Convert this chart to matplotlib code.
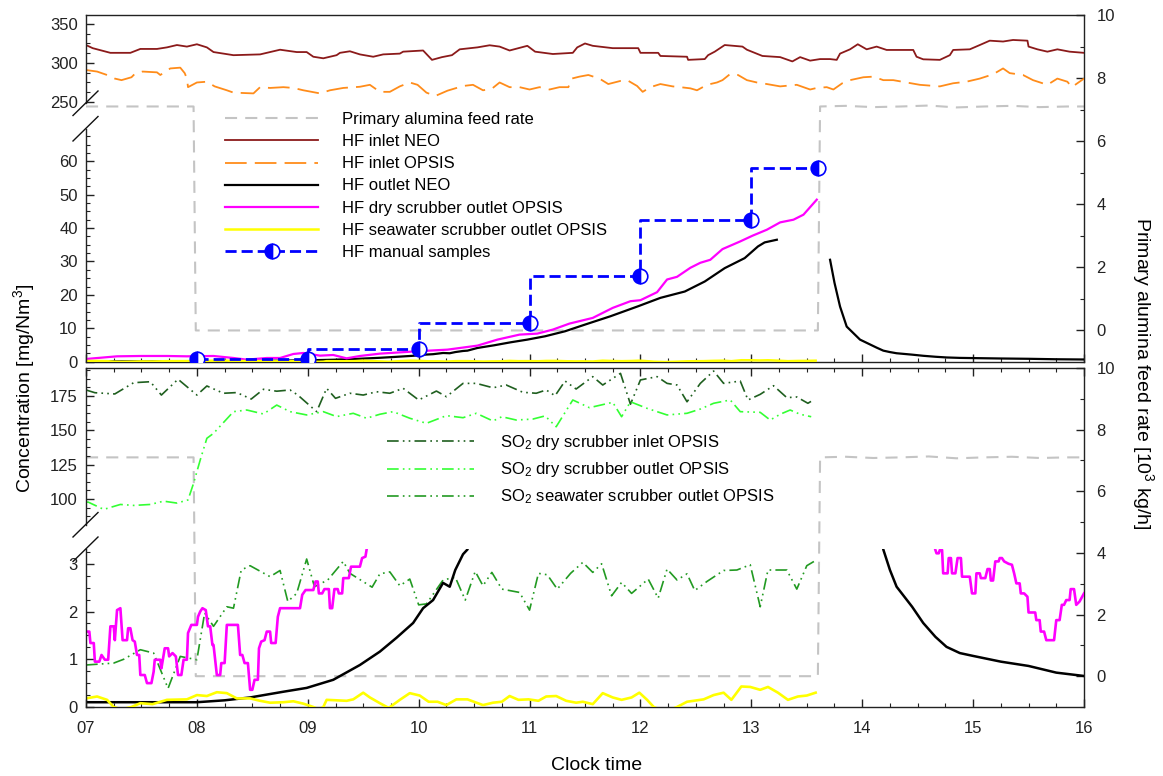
import numpy as np
import matplotlib
matplotlib.use('Agg')
import matplotlib.pyplot as plt
from matplotlib.ticker import MultipleLocator, AutoMinorLocator
from matplotlib.lines import Line2D

plt.rcParams['font.family'] = ['Liberation Sans', 'DejaVu Sans']
plt.rcParams['mathtext.fontset'] = 'custom'
plt.rcParams['mathtext.rm'] = 'Liberation Sans'
plt.rcParams['mathtext.default'] = 'regular'
plt.rcParams['font.size'] = 12
plt.rcParams['axes.linewidth'] = 1.0
plt.rcParams['axes.edgecolor'] = '#222222'

# ---------------- data (clock time in decimal hours) ----------------
hours = list(range(7, 17))
hour_labels = ['%02d' % h for h in hours]

# primary alumina feed rate [10^3 kg/h], right axis
feed_t = [7.00, 7.25, 7.50, 7.75, 7.97, 7.99, 9.00, 10.00, 11.00, 12.00, 13.00, 13.60,
          13.62, 13.85, 14.10, 14.35, 14.60, 14.85, 15.10, 15.35, 15.60, 15.85, 16.00]
feed = [7.1, 7.1, 7.1, 7.1, 7.1, 0.0, 0.0, 0.0, 0.0, 0.0, 0.0, 0.0,
        7.1, 7.12, 7.08, 7.1, 7.13, 7.07, 7.1, 7.12, 7.08, 7.1, 7.1]

# HF inlet NEO
neo_in_t = [7.00, 7.06, 7.22, 7.40, 7.49, 7.64, 7.73, 7.82, 7.91, 8.00,
            8.09, 8.15, 8.33, 8.57, 8.63, 8.75, 8.90, 8.99, 9.05, 9.14,
            9.26, 9.29, 9.38, 9.47, 9.59, 9.68, 9.83, 9.86, 10.04, 10.12,
            10.21, 10.30, 10.37, 10.53, 10.64, 10.73, 10.82, 10.98, 11.05, 11.21,
            11.39, 11.43, 11.50, 11.57, 11.75, 11.98, 12.00, 12.16, 12.18, 12.42,
            12.43, 12.58, 12.61, 12.67, 12.76, 12.92, 12.96, 13.10, 13.26, 13.37,
            13.44, 13.53, 13.62, 13.71, 13.77, 13.80, 13.89, 13.96, 14.04, 14.13,
            14.22, 14.46, 14.49, 14.55, 14.70, 14.79, 14.82, 14.97, 15.06, 15.15,
            15.27, 15.36, 15.49, 15.50, 15.58, 15.67, 15.76, 15.87, 16.00]
neo_in = [323, 319, 313, 313, 318, 318, 320, 323, 321, 324,
          320, 314, 310, 311, 313, 317, 314, 314, 308, 306,
          310, 313, 315, 311, 308, 311, 312, 314.5, 316, 304,
          307.5, 310, 317.5, 320, 322.7, 321, 316, 322, 314.5, 311.5,
          313, 320, 325, 322, 319, 319, 313, 313, 309, 308,
          304, 305, 310, 314.5, 323, 321, 317, 309, 307.5, 302,
          307.5, 303, 305, 305, 304, 312, 317.5, 324, 317.5, 321,
          316.7, 316.7, 308, 304.7, 304, 310, 316.7, 317.5, 323, 328.6,
          327.5, 329.5, 328.6, 321, 317.5, 314.5, 317.5, 314.5, 313]

# HF inlet OPSIS
opsis_in_t = [7.00, 7.10, 7.19, 7.26, 7.32, 7.41, 7.44, 7.51, 7.64, 7.67,
              7.76, 7.85, 7.89, 7.91, 7.92, 8.00, 8.09, 8.16, 8.27, 8.33,
              8.51, 8.57, 8.66, 8.78, 8.87, 8.96, 9.11, 9.20, 9.32, 9.47,
              9.56, 9.65, 9.74, 9.83, 9.92, 9.99, 10.07, 10.15, 10.26, 10.40,
              10.49, 10.58, 10.66, 10.73, 10.82, 10.91, 11.00, 11.09, 11.18, 11.27,
              11.35, 11.38, 11.45, 11.53, 11.63, 11.71, 11.82, 11.88, 11.97, 12.02,
              12.09, 12.18, 12.29, 12.36, 12.45, 12.51, 12.60, 12.69, 12.74, 12.81,
              12.88, 12.96, 13.05, 13.14, 13.26, 13.41, 13.53, 13.59, 13.68, 13.74,
              13.82, 13.89, 14.01, 14.10, 14.19, 14.28, 14.40, 14.52, 14.70, 14.82,
              14.94, 15.06, 15.18, 15.27, 15.33, 15.45, 15.54, 15.67, 15.76, 15.85,
              15.89, 15.96, 16.00]
opsis_in = [291, 289, 284.6, 280, 278, 281.7, 286, 289, 288, 284.6,
            293, 294, 287, 280, 269, 275, 276, 270, 265, 262,
            261, 269, 268, 269, 268, 265, 261, 265, 268, 269.5,
            272, 263, 263, 270, 275, 272, 262, 257.7, 264.5, 270.5,
            272, 265, 267, 275, 269, 269, 266, 269, 266, 269,
            269, 280, 282.5, 284.6, 280, 273, 277, 278, 270.5, 263,
            269, 273, 270, 269, 267.5, 265, 272, 275, 278, 286,
            284.6, 278, 275, 273, 270, 272, 266, 268, 269, 266,
            274, 278, 281.7, 282.5, 278, 278, 275, 272, 270, 274,
            276, 280, 285.5, 293, 287, 284.6, 278, 272, 280, 276,
            269, 276, 280]

# HF outlet NEO
neo_out_t = [7.00, 7.50, 8.00, 8.25, 8.48, 8.78, 8.99, 9.23, 9.47, 9.65,
             9.80, 9.95, 10.04, 10.13, 10.22, 10.28, 10.33, 10.40, 10.44, 10.53,
             10.68, 10.83, 10.98, 11.14, 11.32, 11.50, 11.73, 11.98, 12.18, 12.40,
             12.58, 12.76, 12.94, 13.06, 13.12, 13.23, 13.40,
             13.71, 13.75, 13.80, 13.86, 13.98, 14.13, 14.19, 14.25, 14.31, 14.45,
             14.55, 14.66, 14.76, 14.88, 15.00, 15.25, 15.50, 15.75, 16.00]
neo_out = [0.10, 0.10, 0.10, 0.14, 0.20, 0.32, 0.40, 0.57, 0.88, 1.16,
           1.45, 1.76, 2.07, 2.24, 2.60, 2.52, 2.87, 3.20, 3.30, 4.1,
           4.9, 5.8, 6.6, 7.6, 9.1, 11.1, 13.6, 16.6, 19.1, 21.0,
           24.0, 28.0, 31.0, 34.5, 35.7, 36.5, np.nan,
           30.5, 23.6, 16.5, 10.5, 6.6, 4.2, 3.30, 2.87, 2.52, 2.10,
           1.76, 1.47, 1.26, 1.13, 1.07, 0.95, 0.86, 0.72, 0.65]

# HF dry scrubber outlet OPSIS (upper panel trace)
hf_dry_t = [7.00, 7.28, 7.49, 7.73, 7.91, 8.15, 8.33, 8.45, 8.63, 8.75,
            8.87, 8.96, 9.11, 9.23, 9.35, 9.47, 9.65, 9.98, 10.26, 10.53,
            10.71, 10.91, 11.07, 11.21, 11.36, 11.57, 11.75, 11.91, 12.00, 12.15,
            12.24, 12.33, 12.45, 12.54, 12.63, 12.74, 12.90, 13.01, 13.14, 13.26,
            13.38, 13.47, 13.59]
hf_dry = [0.8, 1.6, 1.7, 1.7, 1.6, 1.7, 1.1, 0.6, 1.1, 1.1,
          2.3, 2.6, 1.8, 2.0, 1.0, 1.7, 2.4, 3.1, 3.6, 4.8,
          6.6, 8.1, 8.4, 9.6, 11.4, 13.1, 16.1, 18.1, 18.4, 20.8,
          24.6, 25.4, 28.1, 29.6, 30.5, 33.7, 36.0, 37.7, 39.5, 41.7,
          42.5, 44.0, 48.5]

# HF dry scrubber outlet OPSIS (1-min trace, lower panel)
hf_dry_fine_t = [7.00, 7.03, 7.04, 7.07, 7.08, 7.12, 7.14, 7.17, 7.20, 7.22,
                 7.25, 7.26, 7.28, 7.31, 7.33, 7.37, 7.38, 7.40, 7.42, 7.44,
                 7.46, 7.48, 7.49, 7.53, 7.55, 7.59, 7.61, 7.62, 7.67, 7.68,
                 7.71, 7.74, 7.75, 7.78, 7.81, 7.83, 7.86, 7.88, 7.91, 7.92,
                 7.95, 8.00, 8.01, 8.03, 8.05, 8.08, 8.10, 8.12, 8.14, 8.15,
                 8.18, 8.21, 8.22, 8.25, 8.27, 8.37, 8.39, 8.41, 8.43, 8.46,
                 8.48, 8.50, 8.52, 8.55, 8.56, 8.58, 8.61, 8.63, 8.66, 8.67,
                 8.71, 8.73, 8.75, 8.93, 8.95, 8.98, 9.05, 9.07, 9.09, 9.10,
                 9.13, 9.15, 9.19, 9.20, 9.22, 9.24, 9.27, 9.28, 9.31, 9.32,
                 9.37, 9.39, 9.47, 9.49, 9.52, 9.53, 12.00,
                 14.66, 14.67, 14.69, 14.70, 14.72, 14.73, 14.77, 14.78, 14.80, 14.81,
                 14.84, 14.86, 14.89, 14.90, 14.97, 14.99, 15.02, 15.03, 15.06, 15.07,
                 15.11, 15.13, 15.15, 15.16, 15.18, 15.20, 15.23, 15.24, 15.26, 15.28,
                 15.32, 15.35, 15.37, 15.39, 15.42, 15.43, 15.46, 15.49, 15.50, 15.56,
                 15.57, 15.60, 15.61, 15.64, 15.66, 15.73, 15.75, 15.78, 15.80, 15.82,
                 15.84, 15.87, 15.88, 15.91, 15.93, 15.96, 16.00]
hf_dry_fine = [1.58, 1.58, 1.34, 1.34, 0.95, 0.95, 1.09, 0.99, 0.99, 1.69,
               1.69, 1.40, 2.03, 2.07, 1.40, 1.40, 1.65, 1.65, 1.40, 1.37,
               1.09, 1.09, 0.67, 0.67, 0.50, 0.50, 0.74, 0.99, 0.99, 0.81,
               1.23, 1.23, 1.06, 1.13, 1.06, 0.67, 0.67, 0.99, 0.99, 1.55,
               1.72, 1.72, 1.89, 2.00, 2.07, 2.03, 1.69, 1.69, 1.30, 1.30,
               0.67, 0.67, 0.92, 0.92, 1.72, 1.72, 1.09, 1.09, 0.92, 0.92,
               0.36, 0.36, 0.57, 0.57, 1.23, 1.37, 1.40, 1.58, 1.58, 1.34,
               1.34, 1.89, 2.07, 2.07, 2.35, 2.45, 2.45, 2.63, 2.63, 2.38,
               2.38, 2.47, 2.47, 2.07, 2.07, 2.47, 2.47, 2.38, 2.38, 2.70,
               2.70, 2.94, 2.94, 3.12, 3.15, 3.29, np.nan,
               3.29, 3.22, 3.22, 3.29, 3.29, 2.80, 2.80, 3.12, 3.12, 2.80,
               2.80, 3.12, 3.12, 2.73, 2.73, 2.38, 2.38, 2.80, 2.80, 2.70,
               2.70, 2.89, 2.89, 2.65, 2.65, 3.05, 3.05, 3.12, 3.12, 3.05,
               3.00, 2.98, 2.80, 2.59, 2.59, 2.38, 2.38, 2.31, 1.98, 1.98,
               1.82, 1.82, 1.58, 1.58, 1.40, 1.40, 1.82, 1.82, 2.14, 2.14,
               2.24, 2.24, 2.47, 2.47, 2.14, 2.21, 2.38]

# HF seawater scrubber outlet OPSIS
hf_sw_t = [7.00, 7.10, 7.19, 7.25, 7.32, 7.41, 7.49, 7.60, 7.73, 7.91,
           8.00, 8.09, 8.18, 8.27, 8.36, 8.48, 8.57, 8.66, 8.78, 8.87,
           8.96, 9.05, 9.10, 9.14, 9.17, 9.35, 9.41, 9.50, 9.56, 9.65,
           9.73, 9.83, 9.92, 10.01, 10.09, 10.17, 10.25, 10.34, 10.44, 10.58,
           10.67, 10.75, 10.82, 10.90, 10.99, 11.08, 11.15, 11.24, 11.33, 11.42,
           11.48, 11.57, 11.66, 11.75, 11.83, 11.92, 11.99, 12.06, 12.12, 12.22,
           12.33, 12.42, 12.57, 12.66, 12.75, 12.82, 12.91, 12.99, 13.08, 13.15,
           13.24, 13.33, 13.42, 13.50, 13.58]
hf_sw = [0.18, 0.22, 0.15, 0.0, -0.05, 0.0, 0.08, 0.06, 0.15, 0.16,
         0.25, 0.23, 0.31, 0.29, 0.18, 0.18, 0.13, 0.09, 0.10, 0.12,
         0.07, 0.0, -0.05, 0.0, 0.15, 0.13, 0.16, 0.30, 0.20, 0.08,
         -0.02, 0.15, 0.29, 0.24, 0.11, 0.11, 0.04, 0.16, 0.16, 0.04,
         0.09, 0.11, 0.23, 0.15, 0.16, 0.13, 0.22, 0.23, 0.13, 0.09,
         0.11, 0.06, 0.29, 0.20, 0.15, 0.20, 0.30, 0.15, 0.0, -0.1,
         0.0, 0.11, 0.16, 0.25, 0.30, 0.15, 0.43, 0.42, 0.36, 0.42,
         0.30, 0.15, 0.22, 0.24, 0.30]

# HF manual samples
manual_t = [8.0, 9.0, 10.0, 11.0, 12.0, 13.0, 13.6]
manual = [0.7, 0.8, 3.8, 11.6, 25.5, 42.3, 58.0]

# SO2 dry scrubber inlet OPSIS
so2_in_t = [7.00, 7.08, 7.26, 7.43, 7.58, 7.68, 7.83, 8.00, 8.09, 8.24,
            8.36, 8.49, 8.60, 8.72, 8.84, 8.91, 9.08, 9.17, 9.25, 9.38,
            9.50, 9.62, 9.74, 9.86, 10.00, 10.16, 10.25, 10.40, 10.52, 10.67,
            10.79, 10.94, 11.06, 11.15, 11.23, 11.32, 11.42, 11.57, 11.66, 11.82,
            11.91, 12.00, 12.15, 12.24, 12.33, 12.42, 12.54, 12.66, 12.75, 12.90,
            12.97, 13.08, 13.20, 13.32, 13.41, 13.51, 13.57]
so2_in = [179.4, 177.4, 176.5, 184.7, 185.4, 175.7, 187.2, 175.7, 182.3, 177.0,
          177.5, 172.8, 179.9, 178.5, 179.4, 175.7, 163.6, 180.6, 173.3, 177.0,
          175.7, 178.1, 177.0, 180.6, 172.1, 178.6, 174.5, 184.2, 184.2, 181.0,
          183.0, 177.7, 177.0, 179.4, 175.2, 185.9, 180.1, 189.1, 183.0, 191.5,
          169.0, 186.7, 189.1, 184.2, 183.0, 170.8, 184.2, 193.2, 184.2, 185.9,
          172.1, 176.2, 182.5, 173.8, 174.3, 169.7, 172.6]

# SO2 dry scrubber outlet OPSIS
so2_out_t = [7.00, 7.02, 7.16, 7.31, 7.43, 7.58, 7.70, 7.82, 7.92, 7.97,
             8.03, 8.09, 8.15, 8.33, 8.45, 8.60, 8.72, 8.84, 8.99, 9.14,
             9.26, 9.41, 9.53, 9.65, 9.77, 9.92, 10.07, 10.25, 10.40, 10.52,
             10.67, 10.75, 10.88, 11.03, 11.14, 11.24, 11.39, 11.54, 11.75, 11.83,
             11.91, 12.06, 12.24, 12.42, 12.54, 12.66, 12.81, 12.90, 13.08, 13.17,
             13.26, 13.35, 13.44, 13.54]
so2_out = [97.7, 97.7, 92.4, 96.0, 95.3, 96.0, 98.4, 97.0, 99.3, 111.4,
           128.4, 144.2, 147.8, 163.6, 164.8, 161.9, 168.4, 163.6, 161.2, 163.6,
           160.0, 162.4, 158.8, 161.7, 163.6, 158.8, 155.1, 160.7, 159.2, 162.4,
           156.8, 159.9, 157.5, 158.2, 160.5, 152.6, 172.1, 166.5, 170.4, 159.9,
           170.8, 166.0, 161.2, 162.4, 165.5, 169.7, 172.1, 163.6, 163.1, 157.5,
           161.7, 164.8, 161.7, 159.9]

# SO2 seawater scrubber outlet OPSIS
so2_sw_t = [7.00, 7.25, 7.34, 7.49, 7.61, 7.74, 7.85, 8.00, 8.07, 8.15,
            8.27, 8.33, 8.40, 8.48, 8.66, 8.75, 8.82, 8.90, 8.99, 9.06,
            9.18, 9.32, 9.38, 9.58, 9.65, 9.74, 9.83, 9.92, 10.00, 10.07,
            10.22, 10.33, 10.42, 10.51, 10.58, 10.66, 10.75, 10.91, 11.00, 11.08,
            11.16, 11.25, 11.37, 11.48, 11.57, 11.65, 11.74, 11.83, 11.92, 12.07,
            12.16, 12.24, 12.33, 12.42, 12.49, 12.60, 12.75, 12.87, 12.99, 13.08,
            13.15, 13.32, 13.41, 13.50, 13.58]
so2_sw = [0.88, 0.92, 1.00, 1.20, 1.13, 0.39, 1.06, 0.99, 1.97, 1.69,
          2.10, 2.07, 2.87, 2.96, 2.73, 2.86, 2.21, 2.38, 3.10, 2.52,
          2.66, 3.05, 2.80, 2.51, 2.79, 2.83, 2.54, 2.68, 2.14, 2.16,
          2.66, 2.72, 2.24, 2.84, 2.54, 2.82, 2.47, 2.40, 2.03, 2.80,
          2.77, 2.47, 2.80, 3.03, 2.82, 3.00, 2.33, 2.61, 2.38, 2.68,
          2.28, 2.89, 2.66, 2.79, 2.44, 2.63, 2.86, 2.87, 2.98, 2.10,
          2.87, 2.87, 2.47, 2.96, 3.07]

# ---------------- styles ----------------
C_FEED = '#c4c4c4'
C_NEO_IN = '#8b1a1a'
C_OPSIS_IN = '#ff8c1a'
C_MAG = '#ff00ff'
C_YEL = '#ffff00'
C_BLUE = '#0000ff'
C_SO2_IN = '#1f5f1f'
C_SO2_OUT = '#33ff33'
C_SO2_SW = '#229a22'
DDOT = (0, (7, 2.5, 1, 2.5, 1, 2.5))

W, H = 1163, 776
fig = plt.figure(figsize=(W / 100, H / 100), dpi=100)


def box(x0, y0, x1, y1):
    return [x0 / W, 1 - y1 / H, (x1 - x0) / W, (y1 - y0) / H]


def tick_style(ax):
    ax.tick_params(which='major', direction='in', length=6, width=1.0, colors='#222222', labelsize=12)
    ax.tick_params(which='minor', direction='in', length=3, width=0.8, colors='#222222')


def make_panel(top, bottom, hi_bottom, lo_top, hi_lim, hi_step, lo_lim, lo_step, xlabels):
    frame = fig.add_axes(box(86, top, 1084, bottom))
    frame.set_xlim(7, 16)
    frame.set_ylim(-1, 10)
    frame.spines['left'].set_visible(False)
    frame.xaxis.set_major_locator(MultipleLocator(1))
    frame.xaxis.set_minor_locator(MultipleLocator(0.25))
    frame.yaxis.set_major_locator(MultipleLocator(2))
    frame.yaxis.set_minor_locator(MultipleLocator(1))
    tick_style(frame)
    frame.tick_params(axis='y', which='both', left=False, labelleft=False, right=True, labelright=True, pad=9)
    frame.tick_params(axis='x', which='both', bottom=True, top=xlabels, labelbottom=xlabels, pad=10)
    if xlabels:
        frame.set_xticks(hours)
        frame.set_xticklabels(hour_labels)

    axes = []
    for (y0, y1, lim, step) in [(top, hi_bottom, hi_lim, hi_step), (lo_top, bottom, lo_lim, lo_step)]:
        a = fig.add_axes(box(86, y0, 1084, y1))
        a.set_xlim(7, 16)
        a.set_ylim(*lim)
        a.patch.set_visible(False)
        for s in ('top', 'right', 'bottom'):
            a.spines[s].set_visible(False)
        a.set_xticks([])
        a.yaxis.set_major_locator(MultipleLocator(step))
        a.yaxis.set_minor_locator(AutoMinorLocator(4))
        tick_style(a)
        a.tick_params(axis='y', pad=6)
        axes.append(a)
    return frame, axes[0], axes[1]


def break_marks(y_hi, y_lo):
    for yc in (y_hi, y_lo):
        fig.add_artist(Line2D([73 / W, 98 / W], [1 - (yc + 12.5) / H, 1 - (yc - 12) / H],
                              transform=fig.transFigure, color='#111111', lw=1.0))


# ---------------- upper panel (HF) ----------------
fr1, hi1, lo1 = make_panel(15, 362, 103, 128.5, (248.7, 361.5), 50, (-0.1, 69.8), 10, False)

h_feed, = fr1.plot(feed_t, feed, color=C_FEED, lw=1.5, dashes=(5.8, 3.9))
h_neo_in, = hi1.plot(neo_in_t, neo_in, color=C_NEO_IN, lw=1.3)
h_ops_in, = hi1.plot(opsis_in_t, opsis_in, color=C_OPSIS_IN, lw=1.3, dashes=(12, 4.5))
h_neo_out, = lo1.plot(neo_out_t, neo_out, color='black', lw=1.6)
h_dry, = lo1.plot(hf_dry_t, hf_dry, color=C_MAG, lw=1.6)
h_sw, = lo1.plot(hf_sw_t, hf_sw, color=C_YEL, lw=1.8)
h_man, = lo1.plot(manual_t, manual, color=C_BLUE, lw=2, dashes=(4, 1.8), drawstyle='steps-pre',
                  marker='o', markersize=10.5, fillstyle='left', markerfacecolor=C_BLUE,
                  markerfacecoloralt='white', markeredgecolor=C_BLUE, markeredgewidth=1.2)

lo1.legend([h_feed, h_neo_in, h_ops_in, h_neo_out, h_dry, h_sw, h_man],
           ['Primary alumina feed rate', 'HF inlet NEO', 'HF inlet OPSIS', 'HF outlet NEO',
            'HF dry scrubber outlet OPSIS', 'HF seawater scrubber outlet OPSIS', 'HF manual samples'],
           loc='upper left', bbox_to_anchor=(225 / W, 1 - 112 / H), bbox_transform=fig.transFigure,
           frameon=False, fontsize=12, handlelength=5.6, handletextpad=1.4, labelspacing=0.43,
           borderpad=0, borderaxespad=0, numpoints=1)

# ---------------- lower panel (SO2 + zoomed HF) ----------------
fr2, hi2, lo2 = make_panel(368, 707, 524.5, 549, (81.4, 195.4), 25, (0, 3.31), 1, True)

fr2.plot(feed_t, feed, color=C_FEED, lw=1.5, dashes=(5.8, 3.9))
h_so2_in, = hi2.plot(so2_in_t, so2_in, color=C_SO2_IN, lw=1.2, linestyle=DDOT)
h_so2_out, = hi2.plot(so2_out_t, so2_out, color=C_SO2_OUT, lw=1.2, linestyle=DDOT)
h_so2_sw, = lo2.plot(so2_sw_t, so2_sw, color=C_SO2_SW, lw=1.2, linestyle=DDOT)
lo2.plot(neo_out_t, neo_out, color='black', lw=1.8)
lo2.plot(hf_dry_fine_t, hf_dry_fine, color=C_MAG, lw=1.9)
lo2.plot(hf_sw_t, hf_sw, color=C_YEL, lw=1.9)

hi2.legend([h_so2_in, h_so2_out, h_so2_sw],
           ['SO$_2$ dry scrubber inlet OPSIS', 'SO$_2$ dry scrubber outlet OPSIS',
            'SO$_2$ seawater scrubber outlet OPSIS'],
           loc='upper left', bbox_to_anchor=(387 / W, 1 - 433 / H), bbox_transform=fig.transFigure,
           frameon=False, fontsize=12, handlelength=5.2, handletextpad=1.6, labelspacing=0.5,
           borderpad=0, borderaxespad=0)

break_marks(103, 128.5)
break_marks(524.5, 549)

fig.text(24 / W, 1 - 388 / H, 'Concentration [mg/Nm$^3$]', rotation=90, ha='center', va='center', fontsize=14)
fig.text(1143 / W, 1 - 373 / H, 'Primary alumina feed rate [10$^3$ kg/h]', rotation=-90,
         ha='center', va='center', fontsize=14)
fig.text(597 / W, 1 - 765 / H, 'Clock time', ha='center', va='center', fontsize=14)

fig.savefig('out.png', dpi=100)
